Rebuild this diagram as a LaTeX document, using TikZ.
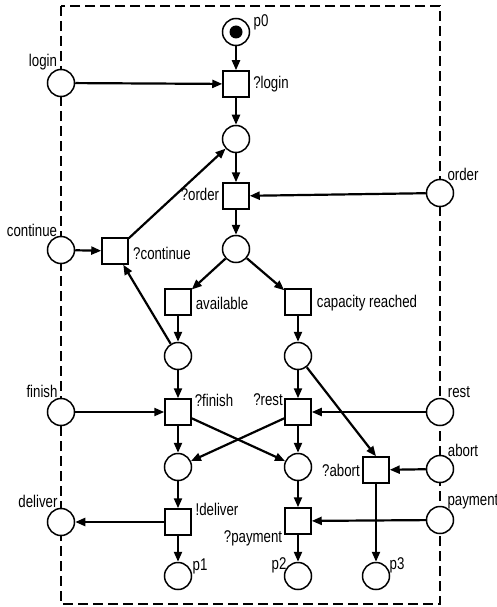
\documentclass[tikz,border=0pt]{standalone}
\usepackage{fontspec}
\setmainfont{Liberation Sans}[FakeStretch=0.78]
\usetikzlibrary{arrows.meta}
\begin{document}
\begin{tikzpicture}[x=1pt,y=-1pt,
 place/.style={circle,draw,line width=1.5pt,fill=white,minimum size=27pt,inner sep=0pt},
 trans/.style={rectangle,draw,line width=1.5pt,fill=white,minimum size=26pt,inner sep=0pt},
 arc/.style={line width=2.2pt,-{Triangle[length=10pt,width=8pt]}},
 lbl/.style={font=\fontsize{17}{18}\selectfont,inner sep=0pt},
 border/.style={line width=2.8pt,dash pattern=on 10pt off 5pt}]
\useasboundingbox (0,0) rectangle (497,607);
\draw[border] (61,6) rectangle (440,604);
% places
\node[place] (p0) at (236,32) {};
\fill (p0.center) circle (6.5pt);
\node[place] (login) at (61,83) {};
\node[place] (q1) at (236,139) {};
\node[place] (order) at (440,193) {};
\node[place] (q2) at (236,249) {};
\node[place] (cont) at (61,250) {};
\node[place] (q3) at (178,356) {};
\node[place] (q4) at (298,356) {};
\node[place] (finish) at (61,412) {};
\node[place] (rest) at (440,412) {};
\node[place] (q5) at (178,467) {};
\node[place] (q6) at (298,467) {};
\node[place] (abort) at (440,469) {};
\node[place] (deliver) at (61,522) {};
\node[place] (payment) at (440,520) {};
\node[place] (p1) at (178,576) {};
\node[place] (p2) at (298,576) {};
\node[place] (p3) at (376,576) {};
% transitions
\node[trans] (tlogin) at (236,84) {};
\node[trans] (torder) at (236,196) {};
\node[trans] (tcont) at (115,251) {};
\node[trans] (tavail) at (178,302) {};
\node[trans] (tcap) at (298,302) {};
\node[trans] (tfinish) at (178,412) {};
\node[trans] (trest) at (298,412) {};
\node[trans] (tabort) at (376,470) {};
\node[trans] (tdeliver) at (178,522) {};
\node[trans] (tpay) at (298,521) {};
% labels
\node[lbl] (lp0) at (261,22) {p0};
\node[lbl] (llogin) at (43,62) {login};
\node[lbl] (ltlogin) at (271,84) {?login};
\node[lbl] (lorder) at (463,174) {order};
\node[lbl] (ltorder) at (200,194) {?order};
\node[lbl] (lcont) at (32,230) {continue};
\node[lbl] (ltcont) at (162,253) {?continue};
\node[lbl] (ltavail) at (222,303) {available};
\node[lbl] (ltcap) at (367,303) {capacity reached};
\node[lbl] (lfinish) at (42,391) {finish};
\node[lbl] (ltfinish) at (214,400) {?finish};
\node[lbl] (ltrest) at (268,400) {?rest};
\node[lbl] (lrest) at (459,392) {rest};
\node[lbl] (labort) at (463,450) {abort};
\node[lbl] (ltabort) at (341,470) {?abort};
\node[lbl] (lpayment) at (473,502) {payment};
\node[lbl] (ltpay) at (253,538) {?payment};
\node[lbl] (ldeliver) at (38,501) {deliver};
\node[lbl] (ltdeliver) at (217,509) {!deliver};
\node[lbl] (lp1) at (200,566) {p1};
\node[lbl] (lp2) at (279,565) {p2};
\node[lbl] (lp3) at (397,565) {p3};
% arcs
\draw[arc] (p0) -- (tlogin);
\draw[arc] (login) -- (tlogin);
\draw[arc] (tlogin) -- (q1);
\draw[arc] (q1) -- (torder);
\draw[arc] (order) -- (torder);
\draw[arc] (torder) -- (q2);
\draw[arc] (q2) -- (tavail);
\draw[arc] (q2) -- (tcap);
\draw[arc] (cont) -- (tcont);
\draw[arc] (tcont) -- (q1);
\draw[arc] (q3) -- (tcont);
\draw[arc] (tavail) -- (q3);
\draw[arc] (tcap) -- (q4);
\draw[arc] (q3) -- (tfinish);
\draw[arc] (q4) -- (trest);
\draw[arc] (q4) -- (tabort.north);
\draw[arc] (finish) -- (tfinish);
\draw[arc] (rest) -- (trest);
\draw[arc] (tfinish) -- (q6);
\draw[arc] (trest) -- (q5);
\draw[arc] (tfinish) -- (q5);
\draw[arc] (trest) -- (q6);
\draw[arc] (abort) -- (tabort);
\draw[arc] (tabort) -- (p3);
\draw[arc] (q5) -- (tdeliver);
\draw[arc] (tdeliver) -- (deliver);
\draw[arc] (q6) -- (tpay);
\draw[arc] (payment) -- (tpay);
\draw[arc] (tpay) -- (p2);
\draw[arc] (tdeliver) -- (p1);
\end{tikzpicture}
\end{document}
